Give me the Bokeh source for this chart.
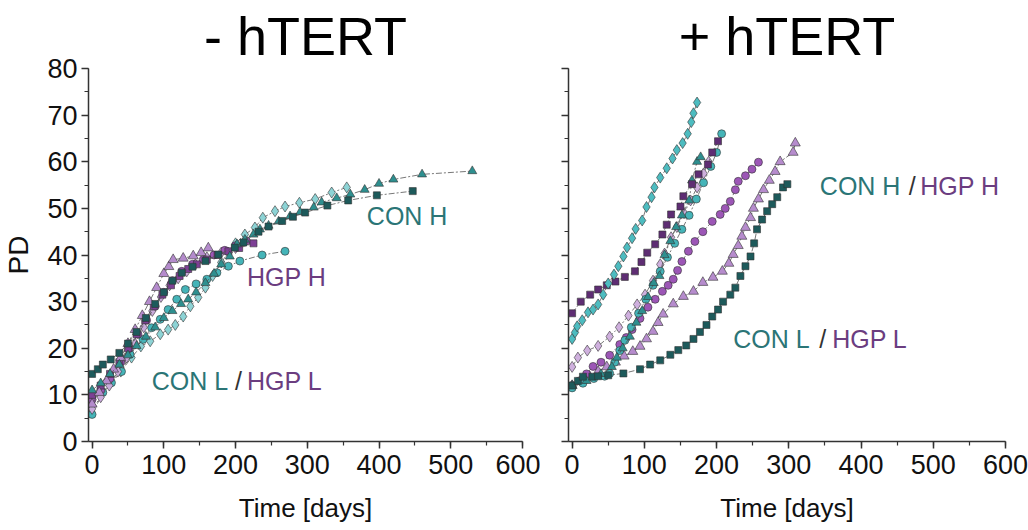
from bokeh.plotting import figure
from bokeh.layouts import row
from bokeh.models import Label, Range1d, CustomJSTickFormatter
from bokeh.embed import file_html
from bokeh.resources import INLINE

# ---------------- data: - hTERT (left) ----------------
L_con_sq_day = [0, 8, 15, 26, 38, 50, 62, 75, 88, 100, 112, 125, 140, 158, 176, 199, 211, 232, 246, 265, 280, 297, 328, 357, 397, 447]
L_con_sq_pd = [14.5, 15.5, 16.5, 17.6, 19, 21, 23.5, 26.5, 29.5, 32, 34.5, 36.2, 37.5, 38.7, 40.1, 41.6, 42.7, 45, 46.1, 47.3, 48.2, 49.1, 50.6, 51.7, 52.8, 53.7]
L_con_tri_day = [0, 12, 25, 38, 50, 62, 75, 88, 100, 112, 124, 134, 145, 158, 170, 180, 192, 202, 213, 225, 234, 246, 260, 276, 290, 309, 320, 341, 360, 380, 400, 420, 460, 530]
L_con_tri_pd = [11, 12.5, 14.5, 16.5, 18.5, 20.5, 22.5, 24.5, 26.5, 28, 29.5, 30.5, 32, 34, 36, 38, 39.7, 42.3, 43.3, 44.4, 45.5, 46.3, 47.2, 48.3, 49.2, 50.2, 51.3, 52.2, 53, 54, 55.3, 56.2, 57.3, 58]
L_con_dia_day = [0, 13, 25, 40, 55, 68, 81, 95, 106, 116, 127, 137, 148, 158, 168, 180, 190, 200, 213, 227, 238, 255, 269, 289, 311, 334, 355]
L_con_dia_pd = [9, 10.5, 12.5, 15, 18, 20.4, 21.5, 23, 24, 25, 26.8, 29, 30.9, 33, 35.5, 38.4, 40.5, 42.5, 44.4, 45.9, 48, 49.4, 50.4, 51.2, 52, 53.4, 54.5]
L_con_cir_day = [0, 15, 27, 41, 53, 71, 83, 95, 106, 118, 130, 145, 160, 174, 190, 206, 237, 269]
L_con_cir_pd = [5.8, 10.5, 12.6, 15, 18.7, 21.9, 24.4, 26.2, 28.3, 30.5, 32.6, 33.8, 34.8, 36.2, 37.6, 38.7, 40, 40.8]

L_hgp_tri_day = [0, 10, 20, 30, 40, 50, 60, 70, 80, 90, 100, 107, 113, 127, 141, 152, 162]
L_hgp_tri_pd = [8, 10.5, 13, 15.5, 18, 21, 24, 27, 30, 33, 36, 37.5, 39, 39.3, 39.8, 40.5, 41.5]
L_hgp_sq_day = [0, 12, 25, 38, 50, 62, 74, 86, 98, 110, 122, 134, 146, 160, 175, 190, 205, 225]
L_hgp_sq_pd = [10, 12, 14.5, 17, 20, 23, 26, 29, 31.5, 33.5, 35.5, 37, 38, 39, 40, 40.8, 41.5, 42.5]
L_hgp_cir_day = [0, 12, 25, 40, 52, 64, 76, 88, 100, 112, 125, 140, 155, 170, 185, 200, 215]
L_hgp_cir_pd = [9, 11, 13.5, 17, 20, 23, 26, 29, 32, 34.5, 36.5, 38, 39, 40, 41, 42, 43]
L_hgp_dia_day = [0, 12, 24, 36, 48, 60, 72, 84, 96, 108, 120, 132, 144, 160, 180, 200]
L_hgp_dia_pd = [7, 9.5, 12, 15, 18, 21, 24.5, 28, 31, 33.5, 35, 36.5, 38, 39.5, 40.5, 41.5]

# ---------------- data: + hTERT (right) ----------------
R_con_sq_day = [0, 8, 15, 28, 36, 50, 71, 94, 108, 122, 136, 147, 158, 168, 177, 186, 194, 202, 209, 219, 226, 233, 240, 247, 252, 256, 263, 270, 277, 284, 292, 298]
R_con_sq_pd = [12, 13, 13.9, 13.9, 14, 14.2, 14.6, 15.5, 16.5, 17.4, 18.6, 19.6, 20.6, 22, 23.5, 25, 26.8, 28.3, 30, 31.5, 33, 35.5, 37.6, 39.7, 42.5, 45.5, 47.6, 49.4, 50.9, 52.4, 54.5, 55.2]
R_con_dia_day = [0, 4, 7, 14, 22, 29, 36, 43, 50, 58, 64, 71, 76, 83, 88, 97, 103, 110, 114, 122, 131, 139, 145, 153, 160, 165, 168, 173]
R_con_dia_pd = [22, 23.4, 24.7, 26, 27.7, 28.3, 29.4, 31.5, 33.9, 35.8, 37.6, 39.7, 41.6, 43.6, 45.6, 47.4, 50.3, 52.4, 54.5, 56.6, 58.6, 60.7, 62.5, 64, 66, 68.5, 70.4, 72.7]
R_con_tri_day = [0, 20, 40, 55, 62, 70, 80, 89, 97, 105, 113, 121, 128, 136, 144, 152, 162, 166, 173, 178]
R_con_tri_pd = [12, 13, 14.5, 16, 18, 20, 22.5, 25.5, 28, 31, 34, 35.5, 40, 43, 46, 48.5, 51.7, 56, 60, 61]
R_con_cir_day = [0, 15, 30, 45, 52, 59, 66, 73, 82, 92, 102, 112, 122, 132, 142, 152, 162, 172, 182, 192, 200, 207]
R_con_cir_pd = [11.5, 12.5, 13.5, 14, 14.6, 17, 19.5, 21.7, 24.5, 27.5, 30.5, 33.5, 36.5, 39.5, 42.5, 45.5, 48.5, 52, 55.5, 59, 62, 66]

R_hgp_sq_day = [0, 12, 25, 36, 48, 60, 73, 87, 96, 104, 115, 125, 131, 137, 150, 154, 166, 175, 188, 194, 202]
R_hgp_sq_pd = [27.5, 30, 31.5, 32.6, 33.5, 34.3, 35.3, 36.5, 38.5, 40.5, 42.3, 44.4, 46.5, 48.7, 50.4, 52.6, 55.2, 57.3, 59.4, 62, 64.4]
R_hgp_cir_day = [0, 10, 20, 29, 40, 52, 66, 75, 83, 94, 105, 115, 125, 133, 140, 146, 152, 161, 170, 181, 194, 205, 212, 219, 226, 230, 240, 249, 258]
R_hgp_cir_pd = [12, 13, 14.5, 16.1, 17, 18.5, 20.8, 22.3, 24, 26.4, 28.8, 30.5, 32.2, 33.5, 34.8, 36.7, 38.6, 40.8, 42.9, 45, 47.2, 48.7, 50, 51.5, 54, 55.8, 57, 58.4, 59.9]
R_hgp_tri_day = [0, 12, 24, 36, 48, 60, 72, 84, 94, 103, 112, 119, 126, 140, 154, 168, 181, 195, 208, 217, 223, 230, 235, 240, 247, 251, 258, 265, 273, 281, 288, 306, 309]
R_hgp_tri_pd = [12, 13, 14, 15, 16, 17, 18.3, 19.3, 20.4, 22, 23.6, 25.5, 27.3, 29.5, 31.1, 32.2, 34.1, 35.2, 36.5, 38.2, 40.1, 42, 44, 45.9, 48, 50, 52, 54, 56, 57.9, 60, 62, 64]
R_hgp_dia_day = [0, 8, 21, 36, 52, 65, 78, 90, 101, 112, 122, 128, 137, 145, 155, 164, 173, 182, 189]
R_hgp_dia_pd = [16, 18, 19.5, 20.5, 22.5, 24.5, 27, 29.4, 31.5, 34.5, 38, 40.3, 43.8, 46, 49, 51.7, 54.5, 57.5, 60]

FONT = "Liberation Sans"
CON_TXT = "#2b7576"
HGP_TXT = "#6b3d80"


def series(p, xs, ys, marker, color, size):
    p.line(xs, ys, line_color="#555555", line_width=0.8, line_dash="6 2 2 2")
    p.scatter(xs, ys, marker=marker, size=size, fill_color=color,
              line_color="#333333", line_width=0.6)


def make_fig(title, width, bl, br, show_ylab):
    p = figure(width=width, height=530, x_range=Range1d(-5, 600), y_range=Range1d(0, 80),
               output_backend="svg", toolbar_location=None,
               min_border_left=bl, min_border_right=br, min_border_top=0, min_border_bottom=0,
               frame_height=373)
    p.title.text = title
    p.title.text_font = FONT
    p.title.text_font_size = "54px"
    p.title.text_font_style = "normal"
    p.title.text_color = "#000000"
    p.title.align = "center"
    p.title.standoff = 6
    p.outline_line_color = None
    p.xgrid.visible = False
    p.ygrid.visible = False
    p.xaxis.ticker.desired_num_ticks = 6
    p.xaxis.ticker.num_minor_ticks = 2
    p.yaxis.ticker.num_minor_ticks = 2
    for ax in (p.xaxis, p.yaxis):
        ax.axis_line_color = "#333333"
        ax.axis_line_width = 1.5
        ax.major_tick_line_color = "#333333"
        ax.minor_tick_line_color = "#333333"
        ax.major_tick_line_width = 1.5
        ax.minor_tick_line_width = 1.2
        ax.major_tick_in = 0
        ax.major_tick_out = 7
        ax.minor_tick_in = 0
        ax.minor_tick_out = 4
        ax.major_label_text_font = FONT
        ax.major_label_text_font_size = "27px"
        ax.major_label_text_color = "#111111"
        ax.axis_label_text_font = FONT
        ax.axis_label_text_font_size = "26px"
        ax.axis_label_text_font_style = "normal"
        ax.axis_label_text_color = "#111111"
    p.xaxis.axis_label = "Time [days]"
    p.xaxis.major_label_standoff = 6
    p.xaxis.axis_label_standoff = 16
    if show_ylab:
        p.yaxis.axis_label = "PD"
        p.yaxis.axis_label_text_font_size = "28px"
        p.yaxis.major_label_standoff = 4
        p.yaxis.axis_label_standoff = 10
    else:
        p.yaxis.formatter = CustomJSTickFormatter(code="return ''")
    return p


p1 = make_fig("- hTERT", 540, 88, 18, True)
series(p1, L_con_dia_day, L_con_dia_pd, "diamond", "#8dd3d5", 11)
series(p1, L_con_cir_day, L_con_cir_pd, "circle", "#45b4b8", 8)
series(p1, L_hgp_dia_day, L_hgp_dia_pd, "diamond", "#c9abdb", 11)
series(p1, L_hgp_cir_day, L_hgp_cir_pd, "circle", "#9c56b6", 8)
series(p1, L_hgp_sq_day, L_hgp_sq_pd, "square", "#7d3f95", 7)
series(p1, L_hgp_tri_day, L_hgp_tri_pd, "triangle", "#b48bcc", 10)
series(p1, L_con_tri_day, L_con_tri_pd, "triangle", "#2e8f8f", 9)
series(p1, L_con_sq_day, L_con_sq_pd, "square", "#1d5a5b", 7)

for txt, x, y, col, al in [("CON H", 383, 48.3, CON_TXT, "left"),
                           ("HGP H", 216, 35.2, HGP_TXT, "left"),
                           ("CON L", 83, 12.9, CON_TXT, "left"),
                           ("/", 204, 12.9, "#333333", "center"),
                           ("HGP L", 216, 12.9, HGP_TXT, "left")]:
    p1.add_layout(Label(x=x, y=y, text=txt, text_color=col, text_font=FONT,
                        text_font_size="25px", text_align=al, text_baseline="middle"))

p2 = make_fig("+ hTERT", 488, 28, 23, False)
series(p2, R_hgp_dia_day, R_hgp_dia_pd, "diamond", "#cfb0de", 11)
series(p2, R_hgp_tri_day, R_hgp_tri_pd, "triangle", "#b68ccd", 10)
series(p2, R_hgp_cir_day, R_hgp_cir_pd, "circle", "#9c56b6", 8)
series(p2, R_con_cir_day, R_con_cir_pd, "circle", "#45b4b8", 8)
series(p2, R_con_tri_day, R_con_tri_pd, "triangle", "#2e8f8f", 9)
series(p2, R_hgp_sq_day, R_hgp_sq_pd, "square", "#5e2d73", 7)
series(p2, R_con_dia_day, R_con_dia_pd, "diamond", "#4dbcc0", 11)
series(p2, R_con_sq_day, R_con_sq_pd, "square", "#1d5a5b", 7)

for txt, x, y, col, al in [("CON H", 343, 54.7, CON_TXT, "left"),
                           ("/", 471, 54.7, "#333333", "center"),
                           ("HGP H", 482, 54.7, HGP_TXT, "left"),
                           ("CON L", 223, 21.9, CON_TXT, "left"),
                           ("/", 347, 21.9, "#333333", "center"),
                           ("HGP L", 360, 21.9, HGP_TXT, "left")]:
    p2.add_layout(Label(x=x, y=y, text=txt, text_color=col, text_font=FONT,
                        text_font_size="25px", text_align=al, text_baseline="middle"))

layout = row(p1, p2)
open("out.html", "w").write(file_html(layout, INLINE))
